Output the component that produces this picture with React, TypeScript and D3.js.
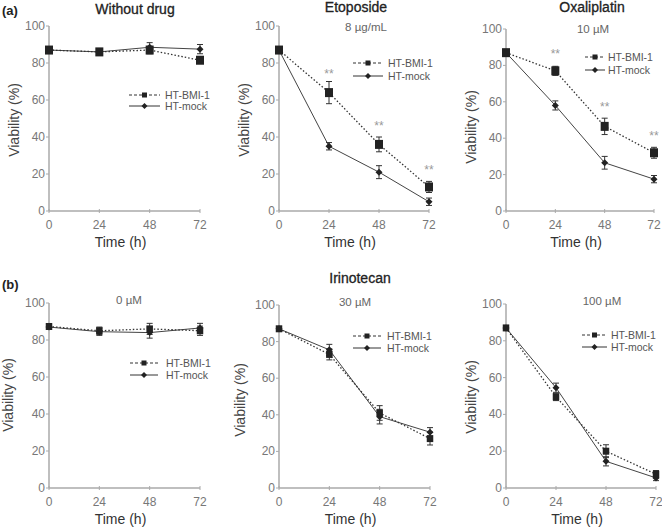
import React from "react";
import * as d3 from "d3";

const timePoints = [0, 24, 48, 72];
const timeTicks = [0, 24, 48, 72];
const yTicks = [0, 20, 40, 60, 80, 100];
const seriesNames = ["HT-BMI-1", "HT-mock"];
const groupLabels = ["(a)", "(b)"];
const panelTitles = ["Without drug", "Etoposide", "Oxaliplatin", "", "Irinotecan", ""];
const panelSubtitles = ["", "8 \u00b5g/mL", "10 \u00b5M", "0 \u00b5M", "30 \u00b5M", "100 \u00b5M"];

const bmi1Values = [
  [87, 86, 87, 81.5],
  [87, 64, 36, 13],
  [87, 77, 46.5, 32],
  [87.3, 85, 86, 85],
  [87, 73, 41, 27],
  [87, 49.5, 20, 7.5],
];
const bmi1Errors = [
  [1.5, 1.5, 2, 1.5],
  [1, 6, 4, 3],
  [1, 2.5, 4.5, 3],
  [1, 2, 3, 2.5],
  [1, 3, 4, 3.5],
  [1, 2, 3.5, 2],
];
const mockValues = [
  [87, 86, 88.5, 87.5],
  [87, 35, 21, 5],
  [87, 58, 26.5, 17.5],
  [87, 84.5, 84, 86.5],
  [87, 75.5, 39, 30.5],
  [87, 54.5, 14.5, 5.5],
];
const mockErrors = [
  [1, 1, 2.5, 2.5],
  [1, 2, 3.5, 2],
  [1, 2.5, 3.5, 2],
  [1, 2, 3, 2.5],
  [1, 3, 4, 2.5],
  [1, 2.5, 2.5, 1.5],
];
const starTimes = [[], [24, 48, 72], [24, 48, 72], [], [], []];
const starLevels = [[], [74, 46, 22], [86, 57, 41], [], [], []];

// layout (pixel geometry of each panel); leg = [lineStartX, y, rowGap, lineLength, textX, fontSize]
const layout = [
  { x0: 49, x1: 200, top: 26, bottom: 211, title: [135, 14], sub: [0, 0], leg: [129, 95, 11, 31, 165, 10.5], ylab: [14, 120] },
  { x0: 279, x1: 429, top: 26, bottom: 211, title: [356, 12], sub: [366, 31], leg: [353, 63, 13, 30, 388, 10.5], ylab: [244, 120] },
  { x0: 506, x1: 654, top: 29, bottom: 211, title: [592, 12], sub: [593, 33], leg: [585, 57, 13, 20, 608, 10.5], ylab: [471, 127] },
  { x0: 49, x1: 200, top: 303, bottom: 488, title: [0, 0], sub: [129, 304], leg: [130, 363, 12, 28, 166, 10.5], ylab: [8, 395] },
  { x0: 279, x1: 430, top: 305, bottom: 488, title: [360, 283], sub: [355, 306], leg: [353, 336, 12, 28, 387, 10.5], ylab: [240, 400] },
  { x0: 506, x1: 656, top: 304, bottom: 488, title: [0, 0], sub: [602, 305], leg: [582, 335, 12, 25, 611, 10.5], ylab: [471, 397] },
];

const FONT = "'Liberation Sans', Arial, sans-serif";

function Square({ x, y, w, h }: { x: number; y: number; w: number; h: number }) {
  return <rect x={x - w / 2} y={y - h / 2} width={w} height={h} fill="#222" />;
}
function Diamond({ x, y, r }: { x: number; y: number; r: number }) {
  return <path d={`M${x},${y - r}L${x + r},${y}L${x},${y + r}L${x - r},${y}Z`} fill="#222" />;
}

function Panel({ i }: { i: number }) {
  const L = layout[i];
  const top = i < 3;
  const xs = d3.scaleLinear().domain([0, 72]).range([L.x0, L.x1]);
  const ys = d3.scaleLinear().domain([0, 100]).range([L.bottom, L.top]);
  const line = d3
    .line<number>()
    .x((_, k) => xs(timePoints[k]))
    .y((v) => ys(v));
  const sqW = top ? 8 : 6.5;
  const sqH = top ? 9 : 7;
  const dr = 3.5;
  const errBar = (t: number, v: number, e: number, key: string) => {
    const x = xs(t);
    const cap = 3;
    return (
      <g key={key} stroke="#333" strokeWidth={1}>
        <line x1={x} x2={x} y1={ys(v - e)} y2={ys(v + e)} />
        <line x1={x - cap} x2={x + cap} y1={ys(v - e)} y2={ys(v - e)} />
        <line x1={x - cap} x2={x + cap} y1={ys(v + e)} y2={ys(v + e)} />
      </g>
    );
  };
  const [lx, ly, lgap, llen, ltx, lfs] = L.leg;
  const lmid = lx + llen / 2;
  return (
    <g fontFamily={FONT}>
      {/* axes */}
      <line x1={L.x0} x2={L.x0} y1={L.top} y2={L.bottom} stroke="#aaa" strokeWidth={1.5} />
      <line x1={L.x0} x2={L.x1} y1={L.bottom} y2={L.bottom} stroke="#aaa" strokeWidth={1.5} />
      {yTicks.map((t) => (
        <g key={"y" + t}>
          <line x1={L.x0 - 3} x2={L.x0} y1={ys(t)} y2={ys(t)} stroke="#aaa" strokeWidth={1} />
          <text x={L.x0 - 4} y={ys(t) + 4} textAnchor="end" fontSize={12} fill="#777">
            {t}
          </text>
        </g>
      ))}
      {timeTicks.map((t) => (
        <g key={"x" + t}>
          <line x1={xs(t)} x2={xs(t)} y1={L.bottom - 2} y2={L.bottom + 2} stroke="#aaa" strokeWidth={1} />
          <text x={xs(t)} y={L.bottom + 18} textAnchor="middle" fontSize={12} fill="#777">
            {t}
          </text>
        </g>
      ))}
      <text x={(L.x0 + L.x1) / 2 - 4} y={L.bottom + 36} textAnchor="middle" fontSize={14} fill="#333">
        Time (h)
      </text>
      <text
        transform={`translate(${L.ylab[0]},${L.ylab[1]}) rotate(-90)`}
        textAnchor="middle"
        fontSize={14}
        fill="#444"
        dy={5}
      >
        Viability (%)
      </text>
      {panelTitles[i] && (
        <text
          x={L.title[0]}
          y={L.title[1]}
          textAnchor="middle"
          fontSize={14}
          fill="#222"
          stroke="#222"
          strokeWidth={0.3}
        >
          {panelTitles[i]}
        </text>
      )}
      {panelSubtitles[i] && (
        <text x={L.sub[0]} y={L.sub[1]} textAnchor="middle" fontSize={11.5} fill="#666">
          {panelSubtitles[i]}
        </text>
      )}
      {/* lines */}
      <path d={line(mockValues[i]) || ""} fill="none" stroke="#444" strokeWidth={1} />
      <path d={line(bmi1Values[i]) || ""} fill="none" stroke="#333" strokeWidth={1.3} strokeDasharray="1.5,2" />
      {/* error bars */}
      {timePoints.map((t, k) => errBar(t, mockValues[i][k], mockErrors[i][k], "me" + k))}
      {timePoints.map((t, k) => errBar(t, bmi1Values[i][k], bmi1Errors[i][k], "be" + k))}
      {/* markers */}
      {timePoints.map((t, k) => (
        <Diamond key={"md" + k} x={xs(t)} y={ys(mockValues[i][k])} r={dr} />
      ))}
      {timePoints.map((t, k) => (
        <Square key={"bs" + k} x={xs(t)} y={ys(bmi1Values[i][k])} w={sqW} h={sqH} />
      ))}
      {/* stars */}
      {starTimes[i].map((t, k) => (
        <text key={"s" + k} x={xs(t)} y={ys(starLevels[i][k]) + 4} textAnchor="middle" fontSize={12} fill="#999">
          **
        </text>
      ))}
      {/* legend */}
      <g>
        <line x1={lx} x2={lx + llen} y1={ly} y2={ly} stroke="#333" strokeWidth={1} strokeDasharray="3,2" />
        <rect x={lmid - 2.5} y={ly - 2.5} width={5} height={5} fill="#222" />
        <text x={ltx} y={ly + 4} fontSize={lfs} fill="#555">
          {seriesNames[0]}
        </text>
        <line x1={lx} x2={lx + llen} y1={ly + lgap} y2={ly + lgap} stroke="#333" strokeWidth={1} />
        <Diamond x={lmid} y={ly + lgap} r={3} />
        <text x={ltx} y={ly + lgap + 4} fontSize={lfs} fill="#555">
          {seriesNames[1]}
        </text>
      </g>
    </g>
  );
}

export default function App() {
  return (
    <svg width={662} height={528} style={{ position: "absolute", left: 0, top: 0, background: "#fff" }}>
      <rect width={662} height={528} fill="#fff" />
      <text x={2} y={15} fontFamily={FONT} fontWeight="bold" fontSize={13} fill="#222">
        {groupLabels[0]}
      </text>
      <text x={2} y={289} fontFamily={FONT} fontWeight="bold" fontSize={13} fill="#222">
        {groupLabels[1]}
      </text>
      {layout.map((_, i) => (
        <Panel key={i} i={i} />
      ))}
    </svg>
  );
}
